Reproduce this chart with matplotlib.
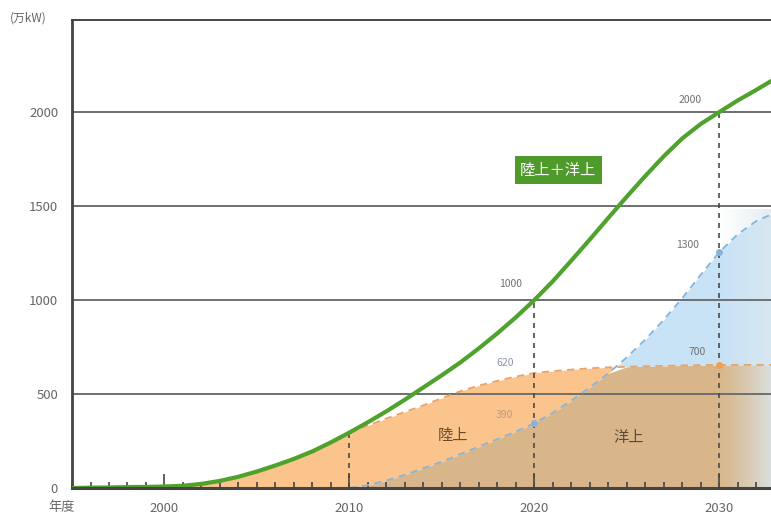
import numpy as np
import matplotlib
matplotlib.use("Agg")
import matplotlib.pyplot as plt

plt.rcParams['font.family'] = ['Noto Sans CJK JP', 'DejaVu Sans']

# ---- data ----
years_total = [1995, 1996, 1997, 1998, 1999, 2000, 2001, 2002, 2003, 2004, 2005, 2006, 2007,
               2008, 2009, 2010, 2011, 2012, 2013, 2014, 2015, 2016, 2017, 2018, 2019, 2020,
               2021, 2022, 2023, 2024, 2025, 2026, 2027, 2028, 2029, 2030, 2031, 2032, 2032.8]
total = [0, 2, 3, 5, 6, 8, 12, 22, 38, 60, 88, 120, 155, 195, 243, 295, 350, 408, 470, 535,
         600, 668, 743, 823, 908, 1000, 1100, 1210, 1322, 1437, 1550, 1660, 1765, 1860, 1937,
         2000, 2062, 2118, 2165]

years_on = [2010, 2011, 2012, 2013, 2014, 2015, 2016, 2017, 2018, 2019, 2020, 2021, 2022, 2023,
            2024, 2025, 2026, 2027, 2028, 2029, 2030, 2031, 2032, 2032.8]
onshore = [295, 333, 370, 405, 440, 478, 515, 545, 570, 593, 612, 622, 630, 637, 642, 645,
           648, 650, 652, 654, 655, 655, 655, 655]
offshore = [0, 15, 40, 70, 105, 140, 180, 220, 260, 300, 345, 400, 465, 535, 610, 695, 790,
            895, 1010, 1135, 1255, 1350, 1420, 1455]

y_ticks = [0, 500, 1000, 1500, 2000]
x_ticks = [2000, 2010, 2020, 2030]

# ---- figure ----
fig = plt.figure(figsize=(7.71, 5.20), dpi=100)
ax = fig.add_axes([0.0934, 0.0615, 0.9066, 0.9])
ax.set_xlim(1995, 2032.8)
ax.set_ylim(0, 2490)

yt = np.array(years_total, dtype=float)
tot = np.array(total, dtype=float)
yo = np.array(years_on, dtype=float)
on = np.array(onshore, dtype=float)
off = np.array(offshore, dtype=float)

c_orange = '#FAC48C'
c_tan = '#D8B68A'
c_blue = '#C8E2F6'

# onshore area before 2010 follows total
pre = yt <= 2010
ax.fill_between(yt[pre], 0, tot[pre], color=c_orange, lw=0, zorder=1)
# after 2010
low = np.minimum(on, off)
ax.fill_between(yo, 0, low, color=c_tan, lw=0, zorder=1)
ax.fill_between(yo, off, on, where=on >= off, interpolate=True, color=c_orange, lw=0, zorder=1)
ax.fill_between(yo, on, off, where=off >= on, interpolate=True, color=c_blue, lw=0, zorder=1)

# right-side fade
grad = np.zeros((2, 256, 4))
t = np.linspace(0, 1, 256)
grad[..., 0] = 0.86
grad[..., 1] = 0.91
grad[..., 2] = 0.94
grad[..., 3] = t ** 1.3 * 0.85
ax.imshow(grad, extent=[2029.8, 2032.8, 0, 1480], aspect='auto', zorder=1.5,
          interpolation='bilinear')

# grid lines
for v in y_ticks[1:]:
    ax.axhline(v, color='#6f6f6f', lw=1.4, zorder=2)

# dashed boundary curves
ax.plot(yo, on, color='#E6A46A', lw=1.3, ls=(0, (4, 3)), zorder=3)
ax.plot(yo, off, color='#86B4DA', lw=1.3, ls=(0, (4, 3)), zorder=3)

# vertical dashed guides
for xv, top in [(2010, 295), (2020, 1000), (2030, 2000)]:
    ax.plot([xv, xv], [0, top], color='#4a4a4a', lw=1.2, ls=(0, (3, 3)), zorder=4)

# markers
ax.plot([2020], [345], 'o', ms=4, color='#86B4DA', zorder=5)
ax.plot([2030], [655], 'o', ms=4, color='#F0A050', zorder=5)
ax.plot([2030], [1255], 'o', ms=4, color='#86B4DA', zorder=5)

# total line
ax.plot(yt, tot, color='#4FA22B', lw=3, zorder=6, solid_capstyle='round', solid_joinstyle='round')

# annotations
small = dict(fontsize=7.5, ha='center', va='center', zorder=7)
ax.text(2028.4, 2064, '2000', color='#707070', **small)
ax.text(2018.7, 1085, '1000', color='#707070', **small)
ax.text(2018.4, 665, '620', color='#8a94b4', **small)
ax.text(2018.4, 388, '390', color='#c49a78', **small)
ax.text(2028.8, 723, '700', color='#707070', **small)
ax.text(2028.3, 1293, '1300', color='#707070', **small)

ax.text(2015.6, 282, '陸上', fontsize=11, color='#6b4a2e', ha='center', va='center', zorder=7)
ax.text(2025.1, 271, '洋上', fontsize=11, color='#5a4a38', ha='center', va='center', zorder=7)
ax.text(2021.3, 1691, '陸上＋洋上', fontsize=11, color='white', ha='center', va='center', zorder=7,
        bbox=dict(boxstyle='square,pad=0.35', fc='#4E9A2A', ec='none'))

# axes styling
ax.spines['right'].set_visible(False)
for s in ['left', 'bottom', 'top']:
    ax.spines[s].set_color('#444444')
ax.spines['left'].set_linewidth(2)
ax.spines['bottom'].set_linewidth(2.2)
ax.spines['top'].set_linewidth(1.4)
ax.spines['bottom'].set_zorder(8)

ax.set_yticks(y_ticks)
ax.set_yticklabels([str(v) for v in y_ticks])
ax.tick_params(axis='y', length=0, labelsize=9.5, labelcolor='#666666', pad=10)
ax.set_xticks(x_ticks)
ax.set_xticklabels([str(v) for v in x_ticks])
ax.set_xticks(np.arange(1995, 2033, 1), minor=True)
ax.tick_params(axis='x', which='major', direction='in', length=10, width=1.2, color='#444444',
               labelsize=9.5, labelcolor='#666666', pad=10)
ax.tick_params(axis='x', which='minor', direction='in', length=4, width=1.2, color='#444444')

fig.text(10 / 771, 1 - 18 / 520, '(万kW)', fontsize=8.5, color='#666666', ha='left', va='center')
fig.text(48 / 771, 1 - 507 / 520, '年度', fontsize=9.5, color='#666666', ha='left', va='center')

fig.savefig('out.png', dpi=100)
